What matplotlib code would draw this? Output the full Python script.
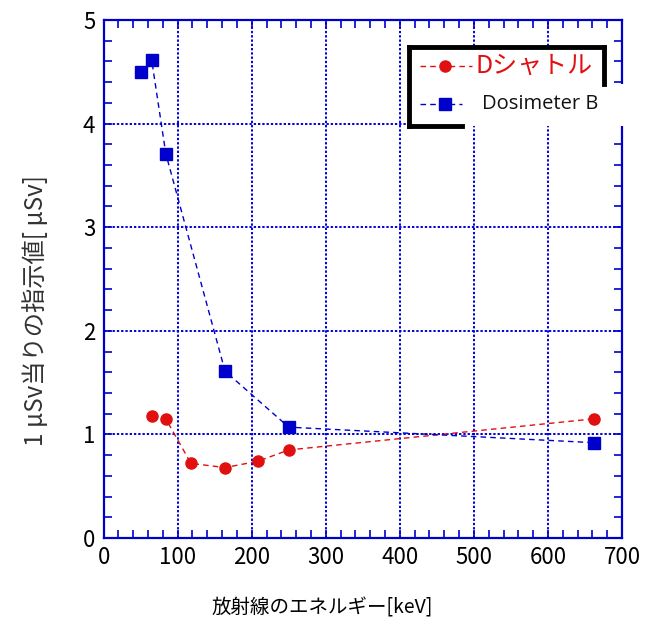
import matplotlib
matplotlib.use("Agg")
import matplotlib.pyplot as plt
import matplotlib.ticker as ticker
from matplotlib.lines import Line2D
from matplotlib.patches import Rectangle

plt.rcParams['font.family'] = ['Noto Sans CJK JP', 'DejaVu Sans']

# data
energy_dshuttle = [65, 84, 118, 164, 208, 250, 662]
reading_dshuttle = [1.18, 1.15, 0.72, 0.68, 0.74, 0.85, 1.15]
energy_dosiB = [50, 65, 84, 164, 250, 662]
reading_dosiB = [4.50, 4.61, 3.71, 1.61, 1.07, 0.92]
label_dshuttle = "Dシャトル"
label_dosiB = "Dosimeter B"

RED = "#e01010"
BLUE = "#0000cc"
W, H = 666, 626

fig = plt.figure(figsize=(W / 100, H / 100), dpi=100)
ax = fig.add_axes([103.6 / W, 1 - 538 / H, (622 - 103.6) / W, (538 - 20) / H])

ax.plot(energy_dshuttle, reading_dshuttle, color=RED, lw=1.0, ls=(0, (4, 3)),
        marker='o', ms=8, mfc=RED, mec=RED, zorder=3)
ax.plot(energy_dosiB, reading_dosiB, color=BLUE, lw=1.0, ls=(0, (4, 3)),
        marker='s', ms=9, mfc=BLUE, mec=BLUE, zorder=3)

ax.set_xlim(0, 700)
ax.set_ylim(0, 5)
ax.xaxis.set_major_locator(ticker.MultipleLocator(100))
ax.xaxis.set_minor_locator(ticker.MultipleLocator(20))
ax.yaxis.set_major_locator(ticker.MultipleLocator(1))
ax.yaxis.set_minor_locator(ticker.MultipleLocator(0.2))
ax.tick_params(which='both', direction='in', top=True, right=True, color=BLUE, width=1.2)
ax.tick_params(which='major', length=6, labelsize=16, pad=6)
ax.tick_params(which='minor', length=6)
ax.grid(True, which='major', color='#0000dd', lw=1.4, ls=(0, (1.2, 1.0)))
for s in ax.spines.values():
    s.set_color(BLUE)
    s.set_linewidth(1.6)

ax.set_xlabel("放射線のエネルギー[keV]", fontsize=14)
ax.xaxis.set_label_coords(0.421, -0.115)
ax.set_ylabel("1 μSv当りの指示値[ μSv]", fontsize=17.5, color='#333333')
ax.yaxis.set_label_coords(-0.105, 0.44)


# legend drawn by hand in pixel positions (figure level, above the axes)
def fx(px):
    return px / W


def fy(py):
    return 1 - py / H


fig.patches.append(Rectangle((fx(409), fy(126)), fx(604) - fx(409), fy(47) - fy(126),
                             transform=fig.transFigure, facecolor='white', edgecolor='none', zorder=1))
fig.patches.append(Rectangle((fx(462), fy(126)), fx(628) - fx(462), fy(84) - fy(126),
                             transform=fig.transFigure, facecolor='white', edgecolor='none', zorder=1))
for xs, ys in [([409, 604], [47, 47]), ([604, 604], [47, 84]), ([409, 409], [47, 126]),
               ([409, 462], [126, 126])]:
    fig.lines.append(Line2D([fx(x) for x in xs], [fy(y) for y in ys], transform=fig.transFigure,
                            color='black', lw=3.5, solid_capstyle='projecting', zorder=2))

fig.lines.append(Line2D([fx(420), fx(472)], [fy(66), fy(66)], transform=fig.transFigure,
                        color=RED, lw=1.0, ls=(0, (4, 3)), zorder=2))
fig.lines.append(Line2D([fx(445)], [fy(66)], transform=fig.transFigure, marker='o', ms=8,
                        color=RED, zorder=2))
fig.text(fx(476), fy(66), label_dshuttle, color=RED, fontsize=18, va='center', ha='left', zorder=3)

fig.lines.append(Line2D([fx(420), fx(462)], [fy(104), fy(104)], transform=fig.transFigure,
                        color=BLUE, lw=1.0, ls=(0, (4, 3)), zorder=2))
fig.lines.append(Line2D([fx(445)], [fy(104)], transform=fig.transFigure, marker='s', ms=9,
                        color=BLUE, zorder=2))
fig.text(fx(482), fy(104), label_dosiB, color='#111111', fontsize=14.5, family='Open Sans',
         va='center', ha='left', zorder=3)

fig.savefig("out.png", dpi=100)
